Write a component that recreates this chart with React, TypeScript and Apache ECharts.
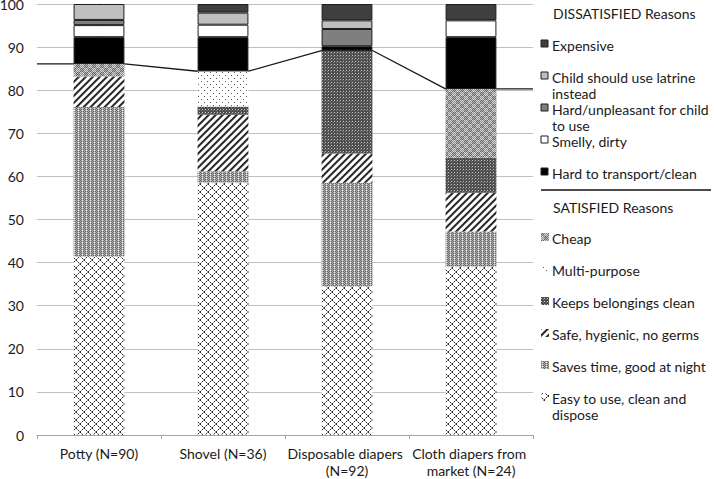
import React, { useEffect, useRef } from 'react';
import * as echarts from 'echarts';

const categories = ['Potty (N=90)', 'Shovel (N=36)', 'Disposable diapers (N=92)', 'Cloth diapers from market (N=24)'];

// SATISFIED reasons (stacked bottom to top)
const easyToUse = [41.4, 58.6, 34.5, 39.1];
const savesTime = [34.7, 2.6, 24.0, 8.1];
const safeHygienic = [7.1, 13.1, 6.8, 9.0];
const keepsClean = [0, 1.9, 23.9, 8.1];
const multiPurpose = [0, 8.2, 0, 0];
const cheap = [2.9, 0, 0, 16.0];

// DISSATISFIED reasons (stacked above satisfied)
const hardTransport = [6.2, 7.9, 1.0, 12.0];
const smelly = [2.8, 2.9, 0, 3.9];
const hardUnpleasant = [1.2, 0, 4.0, 0];
const childLatrine = [3.7, 2.8, 2.0, 0];
const expensive = [0, 2.0, 3.8, 3.8];

const satisfiedNames = ['Easy to use, clean and dispose', 'Saves time, good at night', 'Safe, hygienic, no germs', 'Keeps belongings clean', 'Multi-purpose', 'Cheap'];
const satisfiedLegendLabels = ['Easy to use, clean and\ndispose', 'Saves time, good at night', 'Safe, hygienic, no germs', 'Keeps belongings clean', 'Multi-purpose', 'Cheap'];
const dissatisfiedNames = ['Hard to transport/clean', 'Smelly, dirty', 'Hard/unpleasant for child to use', 'Child should use latrine instead', 'Expensive'];
const dissatisfiedLegendLabels = ['Hard to transport/clean', 'Smelly, dirty', 'Hard/unpleasant for child\nto use', 'Child should use latrine\ninstead', 'Expensive'];

const FONT = 'Lato, "Noto Sans", sans-serif';

function makeTile(w: number, h: number, bg: string, fn: (x: number, y: number) => string | null) {
  const c = document.createElement('canvas');
  c.width = w;
  c.height = h;
  const ctx = c.getContext('2d')!;
  ctx.fillStyle = bg;
  ctx.fillRect(0, 0, w, h);
  for (let y = 0; y < h; y++) {
    for (let x = 0; x < w; x++) {
      const col = fn(x, y);
      if (col) {
        ctx.fillStyle = col;
        ctx.fillRect(x, y, 1, 1);
      }
    }
  }
  return { image: c, repeat: 'repeat', imageWidth: w, imageHeight: h } as any;
}

function buildPatterns() {
  const easy = makeTile(8, 8, '#ffffff', (x, y) => (x === y || x === 7 - y ? (x % 2 === 0 ? '#2a2a2a' : '#9a9a9a') : null));
  const saves = makeTile(8, 8, '#8e8e8e', (x, y) => {
    if (x % 4 === 2 && y % 4 === 2) return '#ffffff';
    if ((x === 2 || x === 6) && (y % 4 === 0)) return '#e0e0e0';
    return (x + y) % 2 === 0 ? '#6a6a6a' : '#ababab';
  });
  const safe = makeTile(7, 7, '#ffffff', (x, y) => {
    const d = (x + y) % 7;
    if (d === 0 || d === 1) return '#2b2b2b';
    if (d === 2) return '#7a7a7a';
    if (d === 6) return '#c0c0c0';
    return null;
  });
  const keeps = makeTile(3, 3, '#4e4e4e', (x, y) => (x === 1 && y === 1 ? '#c4c4c4' : x === 0 && y === 2 ? '#7a7a7a' : null));
  const multi = makeTile(6, 6, '#ffffff', (x, y) => ((x === 0 && y === 0) || (x === 3 && y === 3) ? '#555555' : null));
  const cheapP = makeTile(8, 8, '#999', (x, y) => {
    const q = ((x >> 2) + (y >> 2)) % 2;
    const c = (x + y) % 2;
    return q ? (c ? '#5e5e5e' : '#bdbdbd') : (c ? '#8c8c8c' : '#d9d9d9');
  });
  return [easy, saves, safe, keeps, multi, cheapP];
}

const dissatisfiedColors = ['#000000', '#ffffff', '#7f7f7f', '#bfbfbf', '#3f3f3f'];

export default function App() {
  const ref = useRef<HTMLDivElement>(null);
  useEffect(() => {
    document.body.style.margin = '0';
    document.body.style.overflow = 'hidden';
    const chart = echarts.init(ref.current!, undefined, { renderer: 'svg' });
    const patterns = buildPatterns();
    const satisfiedData = [easyToUse, savesTime, safeHygienic, keepsClean, multiPurpose, cheap];
    const dissatisfiedData = [hardTransport, smelly, hardUnpleasant, childLatrine, expensive];
    const nz = (arr: number[]) => arr.map((v) => (v === 0 ? null : v));

    const series: any[] = [];
    satisfiedData.forEach((arr, i) => {
      series.push({
        name: satisfiedNames[i],
        type: 'bar',
        stack: 'total',
        barWidth: '41%',
        data: nz(arr),
        z: 2,
        itemStyle: { color: patterns[i], borderWidth: 0 },
      });
    });
    dissatisfiedData.forEach((arr, i) => {
      series.push({
        name: dissatisfiedNames[i],
        type: 'bar',
        stack: 'total',
        barWidth: '41%',
        data: nz(arr),
        z: 2,
        itemStyle: { color: dissatisfiedColors[i], borderColor: '#1e1e1e', borderWidth: 1 },
      });
    });

    // satisfied total per category -> connecting line between bars
    const satTotals = categories.map((_, c) => satisfiedData.reduce((s, arr) => s + arr[c], 0));
    const half = 0.205;
    const linePts: number[][] = [[-0.5, satTotals[0]]];
    satTotals.forEach((v, c) => {
      linePts.push([c - half, v]);
      linePts.push([c + half, v]);
    });
    linePts.push([categories.length - 0.5, satTotals[satTotals.length - 1]]);
    series.push({
      type: 'line',
      xAxisIndex: 1,
      data: linePts,
      symbol: 'none',
      z: 1,
      silent: true,
      lineStyle: { color: '#1a1a1a', width: 1.3 },
    });

    const graphics: any[] = [];
    const textStyle = (text: string) => ({ text, fill: '#1a1a1a', fontSize: 14, fontFamily: FONT, lineHeight: 16, verticalAlign: 'top' });
    graphics.push({ type: 'text', x: 553, y: 13 - 8, style: textStyle('DISSATISFIED Reasons') });
    const dOrder = [4, 3, 2, 1, 0];
    dOrder.forEach((idx, row) => {
      const cy = 45 + 32 * row;
      graphics.push({ type: 'rect', shape: { x: 541, y: cy - 5, width: 7, height: 7 }, style: { fill: dissatisfiedColors[idx], stroke: '#1e1e1e', lineWidth: 1 } });
      graphics.push({ type: 'text', x: 552, y: cy - 8, style: textStyle(dissatisfiedLegendLabels[idx]) });
    });
    graphics.push({ type: 'line', shape: { x1: 541, y1: 190, x2: 711, y2: 190 }, style: { stroke: '#111', lineWidth: 1.5 } });
    graphics.push({ type: 'text', x: 553, y: 207 - 8, style: textStyle('SATISFIED Reasons') });
    const sOrder = [5, 4, 3, 2, 1, 0];
    sOrder.forEach((idx, row) => {
      const cy = 238 + 32 * row;
      graphics.push({ type: 'rect', shape: { x: 541, y: cy - 5, width: 8, height: 8 }, style: { fill: patterns[idx] } });
      graphics.push({ type: 'text', x: 552, y: cy - 8, style: textStyle(satisfiedLegendLabels[idx]) });
    });

    chart.setOption({
      animation: false,
      backgroundColor: '#ffffff',
      grid: { left: 37, right: 181, top: 4, bottom: 44, containLabel: false, outerBoundsMode: 'none' },
      xAxis: [
        {
          type: 'category',
          data: categories,
          axisLine: { lineStyle: { color: '#a6a6a6', width: 1 } },
          axisTick: { show: true, length: 4, lineStyle: { color: '#a6a6a6' } },
          axisLabel: { color: '#1a1a1a', fontSize: 14, fontFamily: FONT, margin: 10, width: 122, overflow: 'break', lineHeight: 17, interval: 0 },
        },
        { type: 'value', min: -0.5, max: categories.length - 0.5, show: false },
      ],
      yAxis: {
        type: 'value',
        min: 0,
        max: 100,
        interval: 10,
        axisLine: { show: true, lineStyle: { color: '#a6a6a6' } },
        axisTick: { show: true, length: 5, lineStyle: { color: '#a6a6a6' } },
        splitLine: { lineStyle: { color: '#c0c0c0', width: 1 } },
        axisLabel: { color: '#1a1a1a', fontSize: 14, fontFamily: FONT, margin: 13 },
      },
      graphic: graphics,
      series,
    });
    return () => chart.dispose();
  }, []);
  return <div ref={ref} style={{ width: 714, height: 479 }} />;
}
